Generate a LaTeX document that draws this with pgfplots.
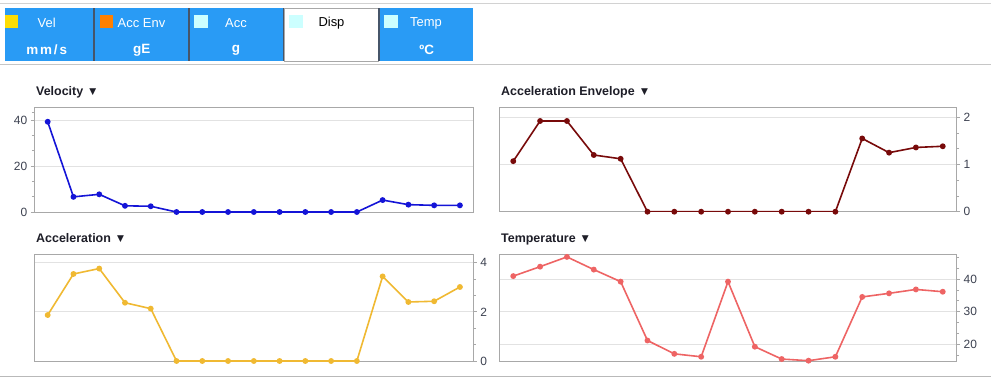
\documentclass[border=0pt]{standalone}
\usepackage{pgfplots}
\pgfplotsset{compat=1.18}
\usepackage{fontspec}
\setmainfont{Liberation Sans}
\newfontfamily\dejavu{DejaVu Sans}
\definecolor{tabblue}{RGB}{41,155,245}
\definecolor{sepc}{RGB}{70,85,105}
\definecolor{velc}{RGB}{20,20,215}
\definecolor{envc}{RGB}{120,10,10}
\definecolor{accc}{RGB}{240,185,50}
\definecolor{tempc}{RGB}{238,100,100}
\definecolor{framec}{RGB}{168,168,168}
\definecolor{gridc}{RGB}{226,226,226}
\definecolor{tickc}{RGB}{60,65,80}
\definecolor{titlec}{RGB}{30,30,40}
\definecolor{sqcyan}{RGB}{204,255,255}
\pgfplotsset{panel/.style={
  scale only axis,
  xmin=-0.52, xmax=16.52, xtick=\empty,
  axis line style={framec, line width=0.8pt},
  ymajorgrids, grid style={gridc, line width=0.7pt},
  every tick/.style={framec, line width=0.7pt},
  major tick length=3.5bp, minor tick length=2.5bp,
  tick align=outside,
  /pgf/number format/assume math mode=true,
  yticklabel style={font=\fontsize{12}{14}\selectfont, text=tickc},
  clip mode=individual,
  every axis plot/.append style={line width=1.6pt, mark=*, mark size=2.1pt},
}}
\newcommand{\tri}{{\dejavu\fontsize{9}{10}\selectfont\raisebox{0.5bp}{▼}}}
\begin{document}
\begin{tikzpicture}
\fill[white] (0,0) rectangle (991bp,-380bp);
\path[use as bounding box] (0,0) rectangle (991bp,-380bp);
\begin{scope}[x=1bp,y=-1bp]
  \draw[gray!35, line width=1bp] (0,3.5) -- (991,3.5);
  \fill[tabblue] (5,8.3) rectangle (473.3,61);
  \fill[white] (284.3,8.3) rectangle (378.3,61);
  \draw[framec, line width=0.8bp] (284.3,8.3) rectangle (378.3,61);
  \foreach \xx in {94.2,189.2,283.6,378.9}{\draw[sepc, line width=1.6bp] (\xx,8.3) -- (\xx,61);}
  \draw[gray!45, line width=1bp] (0,64.3) -- (991,64.3);
  \fill[yellow!80!orange] (5,15) rectangle (18.3,28.3);
  \fill[orange] (100,15) rectangle (113.3,28.3);
  \fill[sqcyan] (194.3,15) rectangle (208,28.3);
  \fill[sqcyan] (288.7,15) rectangle (302.5,28.3);
  \fill[sqcyan] (384.3,15) rectangle (398,28.3);
  \begin{scope}[every node/.style={text=white, inner sep=0pt}]
    \node[font=\fontsize{13}{15}\selectfont] at (46.7,23.3) {Vel};
    \node[font=\fontsize{13}{15}\selectfont] at (141.5,23.3) {Acc Env};
    \node[font=\fontsize{13}{15}\selectfont] at (236,23.3) {Acc};
    \node[font=\fontsize{13}{15}\selectfont, text=black] at (331.5,23.3) {Disp};
    \node[font=\fontsize{13}{15}\selectfont] at (426,23.3) {Temp};
    \node[font=\fontsize{13.5}{15}\selectfont\bfseries\addfontfeature{LetterSpace=14}] at (46.7,50) {mm/s};
    \node[font=\fontsize{13.5}{15}\selectfont\bfseries] at (141.7,50) {gE};
    \node[font=\fontsize{13.5}{15}\selectfont\bfseries] at (236,50) {g};
    \node[font=\fontsize{13.5}{15}\selectfont\bfseries] at (426.7,50) {ºC};
  \end{scope}
  \begin{scope}[every node/.style={text=titlec, inner sep=0pt, anchor=base west, font=\fontsize{12.5}{14}\selectfont\bfseries}]
    \node at (36,95.3) {Velocity\enspace\tri};
    \node at (501,95.3) {Acceleration Envelope\enspace\tri};
    \node at (36,242.3) {Acceleration\enspace\tri};
    \node at (501,242.3) {Temperature\enspace\tri};
  \end{scope}
  \draw[gray!55, line width=1bp] (0,376.5) -- (991,376.5);
\end{scope}

% Velocity
\begin{axis}[panel, at={(34.3bp,-212bp)}, anchor=south west,
  width=439bp, height=104.7bp,
  ymin=0, ymax=45.6, ytick={0,20,40},
  minor ytick={6.667,13.333,26.667,33.333,43.333},
  ytick pos=left]
\addplot[velc, mark options={fill=velc}] coordinates {
(0,39.3) (1,6.6) (2,7.7) (3,2.7) (4,2.5) (5,0) (6,0) (7,0) (8,0)
(9,0) (10,0) (11,0) (12,0) (13,5.2) (14,3.2) (15,2.9) (16,2.9)};
\end{axis}

% Acceleration Envelope
\begin{axis}[panel, at={(499.3bp,-211.7bp)}, anchor=south west,
  width=457.4bp, height=104.4bp,
  ymin=0, ymax=2.21, ytick={0,1,2},
  minor ytick={0.3333,0.6667,1.3333,1.6667},
  ytick pos=right, yticklabel pos=right]
\addplot[envc, mark options={fill=envc}] coordinates {
(0,1.07) (1,1.92) (2,1.92) (3,1.20) (4,1.12) (5,0) (6,0) (7,0) (8,0)
(9,0) (10,0) (11,0) (12,0) (13,1.55) (14,1.25) (15,1.36) (16,1.385)};
\end{axis}

% Acceleration
\begin{axis}[panel, at={(34.3bp,-361bp)}, anchor=south west,
  width=439bp, height=106.7bp,
  ymin=0, ymax=4.34, ytick={0,2,4},
  minor ytick={0.6667,1.3333,2.6667,3.3333},
  ytick pos=right, yticklabel pos=right]
\addplot[accc, mark options={fill=accc}] coordinates {
(0,1.87) (1,3.54) (2,3.76) (3,2.37) (4,2.13) (5,0) (6,0) (7,0) (8,0)
(9,0) (10,0) (11,0) (12,0) (13,3.44) (14,2.40) (15,2.43) (16,3.01)};
\end{axis}

% Temperature
\begin{axis}[panel, at={(499.3bp,-361bp)}, anchor=south west,
  width=457.4bp, height=106.7bp,
  ymin=14.8, ymax=47.6, ytick={20,30,40},
  minor ytick={16.667,23.333,26.667,33.333,36.667,43.333,46.667},
  ytick pos=right, yticklabel pos=right]
\addplot[tempc, mark options={fill=tempc}] coordinates {
(0,40.9) (1,43.8) (2,46.8) (3,42.9) (4,39.2) (5,21.1) (6,17.0) (7,16.1) (8,39.2)
(9,19.2) (10,15.4) (11,14.9) (12,16.1) (13,34.5) (14,35.6) (15,36.8) (16,36.1)};
\end{axis}
\end{tikzpicture}
\end{document}
